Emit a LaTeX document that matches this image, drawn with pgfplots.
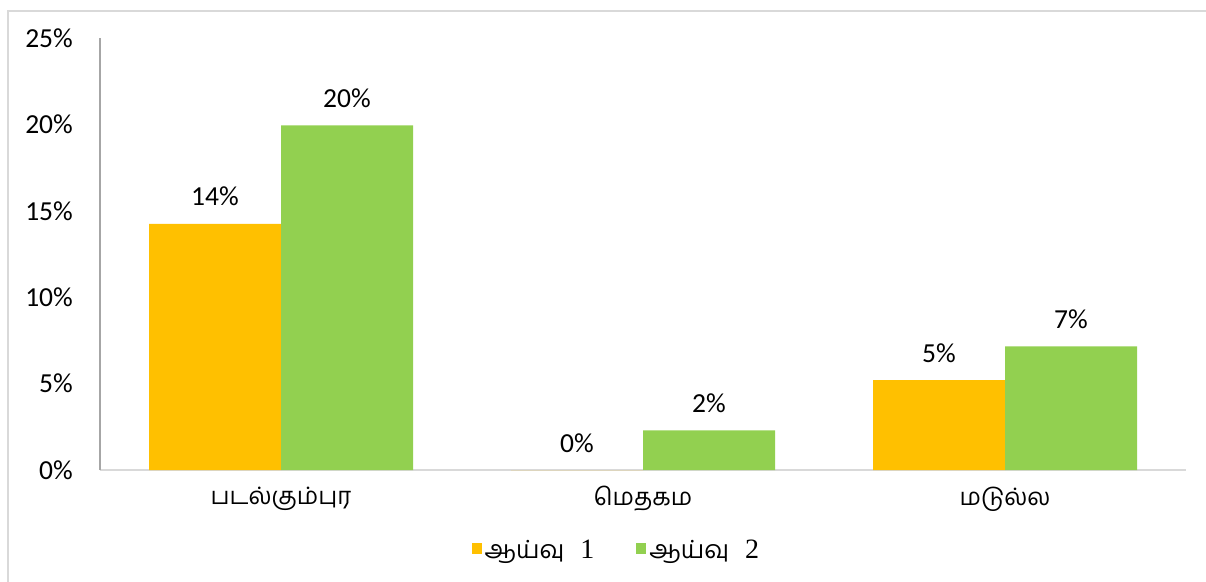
\documentclass[border=0pt]{standalone}
\usepackage{fontspec}
\usepackage{pgfplots}
\pgfplotsset{compat=1.18}
\setmainfont{Carlito}
\newfontfamily\tamil[Script=Tamil]{Hind Madurai}
\newfontfamily\serif{Liberation Serif}
\definecolor{orng}{HTML}{FFC000}
\definecolor{grn}{HTML}{92D050}
\definecolor{bord}{HTML}{D9D9D9}
\definecolor{yax}{HTML}{A6A6A6}
\begin{document}
\begin{tikzpicture}[x=1pt,y=1pt]
\useasboundingbox (0,0) rectangle (1206,581);
\draw[bord, line width=1.2pt] (8,-2) -- (8,570) -- (1210,570);
\begin{axis}[
  at={(100pt,111pt)}, anchor=south west,
  scale only axis, width=1086pt, height=432pt,
  xmin=-0.5, xmax=2.5, ymin=0, ymax=25,
  ybar=0pt, bar width=132pt,
  axis x line*=bottom, axis y line*=left,
  x axis line style={bord, line width=1.5pt, -},
  y axis line style={yax, line width=1.2pt, -},
  major tick length=0pt,
  xtick={0,1,2},
  xticklabels={{\tamil படல்கும்புர},{\tamil மெதகம},{\tamil மடுல்ல}},
  xticklabel style={font=\fontsize{24}{28}\selectfont, inner sep=0pt, anchor=center, yshift=-29pt},
  ytick={0,5,10,15,20,25},
  yticklabel={\pgfmathprintnumber{\tick}\%},
  yticklabel style={font=\fontsize{27.5}{32}\selectfont, inner sep=0pt, anchor=east, xshift=-27pt},
  /pgf/number format/assume math mode=true,
  nodes near coords={\pgfmathprintnumber[fixed,precision=0]{\pgfplotspointmeta}\%},
  every node near coord/.append style={font=\fontsize{27.5}{32}\selectfont, anchor=base, yshift=18pt, black},
  legend columns=2,
  legend style={at={(0.4755,-0.185)}, anchor=center, draw=none, fill=none,
    font=\fontsize{25}{29}\selectfont, column sep=1pt, inner sep=0pt,
    /tikz/every even column/.append style={column sep=40pt}},
  legend image code/.code={\fill[#1] (0pt,-4pt) rectangle (10pt,7pt);},
  clip=false,
]
\addplot[fill=orng, draw=none] coordinates {(0,14.25) (1,0) (2,5.2)};
\addplot[fill=grn, draw=none] coordinates {(0,19.95) (1,2.3) (2,7.15)};
\legend{{\tamil ஆய்வு}\hspace{16pt}{\serif\fontsize{28}{30}\selectfont 1},{\tamil ஆய்வு}\hspace{16pt}{\serif\fontsize{28}{30}\selectfont 2}}
\end{axis}
\end{tikzpicture}
\end{document}
